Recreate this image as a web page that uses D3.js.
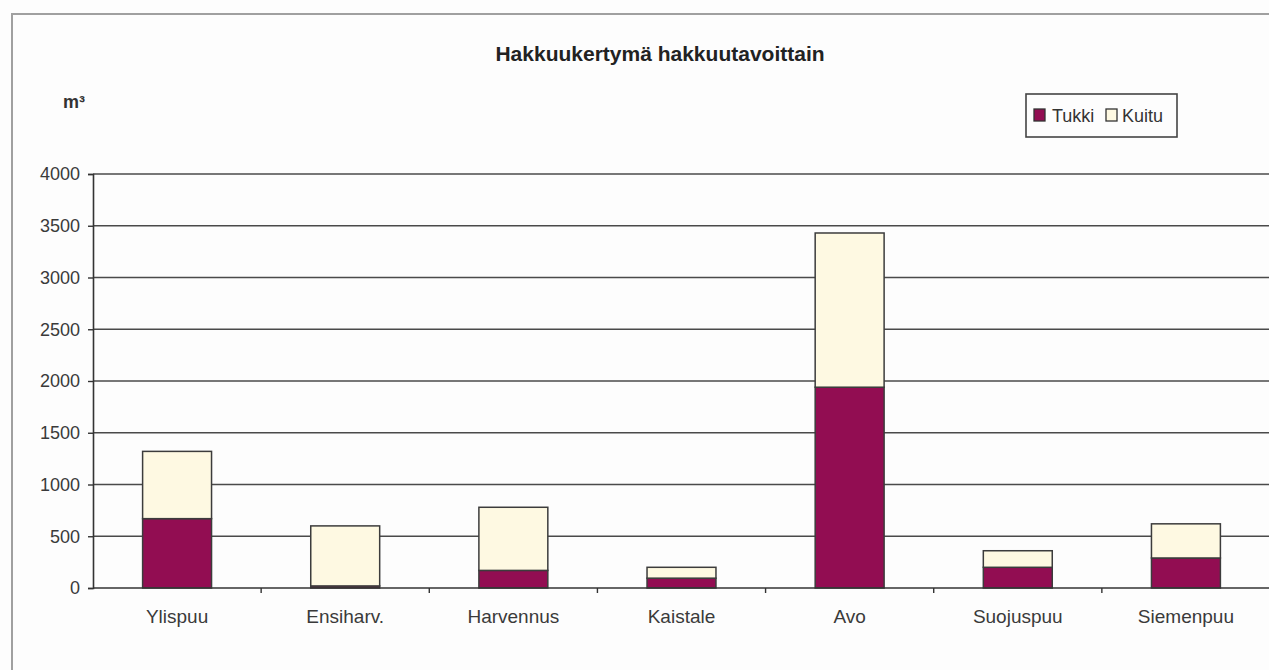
<!DOCTYPE html>
<html>
<head>
<meta charset="utf-8">
<script src="https://cdn.jsdelivr.net/npm/d3@7"></script>
<style>
  html, body { margin: 0; padding: 0; background: #fdfdfd; overflow: hidden; }
  svg { display: block; font-family: "Liberation Sans", Arial, sans-serif; }
</style>
</head>
<body>
<svg id="chart" width="1269" height="670"></svg>
<script>
// Harvesting volume by felling method (m³), stacked: saw logs (Tukki) + pulpwood (Kuitu)
const categories = ["Ylispuu", "Ensiharv.", "Harvennus", "Kaistale", "Avo", "Suojuspuu", "Siemenpuu"];
const tukki = [670, 20, 170, 95, 1940, 200, 290];
const kuitu = [650, 580, 610, 105, 1490, 160, 330];
const seriesNames = ["Tukki", "Kuitu"];
const yTicks = [0, 500, 1000, 1500, 2000, 2500, 3000, 3500, 4000];

const colors = { Tukki: "#920d52", Kuitu: "#fef9e2" };

const svg = d3.select("#chart");
const W = 1269, H = 670;
const plot = { left: 93, right: 1270, top: 174, bottom: 588 };

// outer chart frame (only its top and left edges fall inside the view)
svg.append("path")
  .attr("d", `M12,${H + 10} V14 H${W + 10}`)
  .attr("fill", "none")
  .attr("stroke", "#a0a0a0").attr("stroke-width", 2);

const x = d3.scaleBand().domain(categories).range([plot.left, plot.right]).padding(0);
const y = d3.scaleLinear().domain([0, 4000]).range([plot.bottom, plot.top]);

// horizontal gridlines
svg.append("g")
  .selectAll("line")
  .data(yTicks.filter(d => d > 0))
  .join("line")
  .attr("x1", plot.left).attr("x2", W + 5)
  .attr("y1", d => y(d)).attr("y2", d => y(d))
  .attr("stroke", "#4a4a4a").attr("stroke-width", 1.6);

// y axis
const yAxis = d3.axisLeft(y).tickValues(yTicks).tickSize(5).tickPadding(8).tickFormat(d3.format("d"));
const gy = svg.append("g").attr("transform", `translate(${plot.left},0)`).call(yAxis);
gy.select(".domain").attr("stroke", "#333").attr("stroke-width", 1.6);
gy.selectAll(".tick line").attr("stroke", "#333").attr("stroke-width", 1.4);
gy.selectAll(".tick text")
  .attr("fill", "#3a3a3a")
  .style("font-size", "18px");

// stacked bars
const rows = categories.map((c, i) => ({ cat: c, Tukki: tukki[i], Kuitu: kuitu[i] }));
const stack = d3.stack().keys(seriesNames)(rows);
const barW = x.bandwidth() * 0.41;

svg.append("g")
  .selectAll("g")
  .data(stack)
  .join("g")
  .attr("fill", s => colors[s.key])
  .selectAll("rect")
  .data(s => s)
  .join("rect")
  .attr("x", d => x(d.data.cat) + (x.bandwidth() - barW) / 2)
  .attr("y", d => y(d[1]))
  .attr("width", barW)
  .attr("height", d => y(d[0]) - y(d[1]))
  .attr("stroke", "#3c3c3c")
  .attr("stroke-width", 1.5);

// x axis with ticks between categories
const gx = svg.append("g").attr("transform", `translate(0,${plot.bottom})`);
gx.append("line")
  .attr("x1", plot.left).attr("x2", W + 5)
  .attr("y1", 0).attr("y2", 0)
  .attr("stroke", "#333").attr("stroke-width", 1.6);
gx.selectAll("line.tk")
  .data(categories)
  .join("line")
  .attr("class", "tk")
  .attr("x1", d => x(d) + x.bandwidth()).attr("x2", d => x(d) + x.bandwidth())
  .attr("y1", 0).attr("y2", 5)
  .attr("stroke", "#333").attr("stroke-width", 1.4);
gx.selectAll("text")
  .data(categories)
  .join("text")
  .attr("x", d => x(d) + x.bandwidth() / 2)
  .attr("y", 35)
  .attr("text-anchor", "middle")
  .attr("fill", "#3a3a3a")
  .style("font-size", "19px")
  .text(d => d);

// title
svg.append("text")
  .attr("x", 660).attr("y", 61)
  .attr("text-anchor", "middle")
  .attr("fill", "#222")
  .style("font-size", "21px").style("font-weight", "bold")
  .text("Hakkuukertymä hakkuutavoittain");

// unit label
svg.append("text")
  .attr("x", 63).attr("y", 108)
  .attr("fill", "#333")
  .style("font-size", "18px").style("font-weight", "bold")
  .text("m³");

// legend
const lg = svg.append("g");
lg.append("rect")
  .attr("x", 1026).attr("y", 94).attr("width", 151).attr("height", 43)
  .attr("fill", "#fdfdfd").attr("stroke", "#444").attr("stroke-width", 1.6);
const legendItems = [
  { key: "Tukki", sx: 1034, tx: 1052 },
  { key: "Kuitu", sx: 1106, tx: 1122 }
];
legendItems.forEach(it => {
  lg.append("rect")
    .attr("x", it.sx).attr("y", 109).attr("width", 11).attr("height", 12)
    .attr("fill", colors[it.key]).attr("stroke", "#333").attr("stroke-width", 1.3);
  lg.append("text")
    .attr("x", it.tx).attr("y", 122)
    .attr("fill", "#333")
    .style("font-size", "18px")
    .text(it.key);
});
</script>
</body>
</html>
